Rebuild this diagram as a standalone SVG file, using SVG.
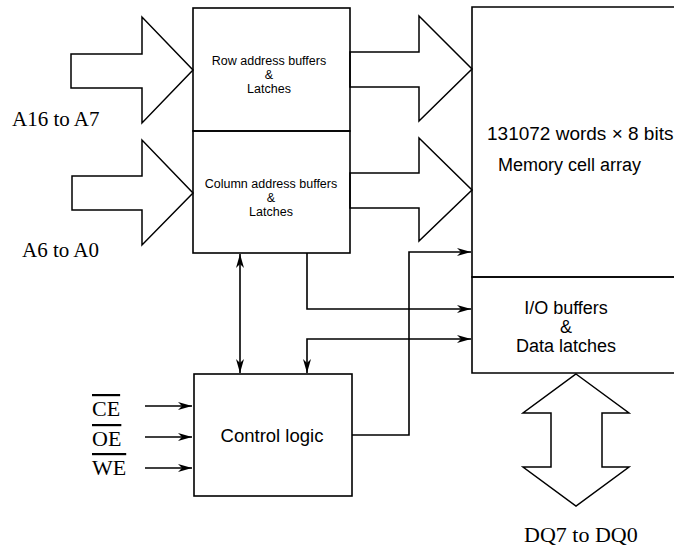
<svg xmlns="http://www.w3.org/2000/svg" width="674" height="546" viewBox="0 0 674 546">
<style>
.box{fill:none;stroke:#000;stroke-width:1.6}
.bus{fill:#fff;stroke:#000;stroke-width:1.5;stroke-linejoin:miter}
.wire{fill:none;stroke:#000;stroke-width:1.6}
.sans{font-family:"Liberation Sans",Arial,sans-serif;fill:#000}
.serif{font-family:"Liberation Serif","Times New Roman",serif;fill:#000}
</style>
<defs>
<marker id="ah" markerUnits="userSpaceOnUse" markerWidth="16" markerHeight="10" refX="14" refY="4" orient="auto-start-reverse" viewBox="0 0 16 10">
<path d="M0,0 L14,4 L0,8 L4,4 z" fill="#000"/>
</marker>
</defs>
<rect width="674" height="546" fill="#fff"/>

<g id="connectors">
<path class="wire" d="M240,254 V373" marker-start="url(#ah)" marker-end="url(#ah)"/>
<path class="wire" d="M307,253 V309 H471" marker-end="url(#ah)"/>
<path class="wire" d="M471,339 H307 V373" marker-start="url(#ah)" marker-end="url(#ah)"/>
<path class="wire" d="M352,435 H409 V252 H471" marker-end="url(#ah)"/>
<path class="wire" d="M145,406 H192" marker-end="url(#ah)"/>
<path class="wire" d="M145,437 H192" marker-end="url(#ah)"/>
<path class="wire" d="M145,468 H192" marker-end="url(#ah)"/>
</g>

<g id="bus-row-in">
<polygon class="bus" points="71,54 142,54 142,17 193,70 142,123 142,88 71,88"/>
<text class="serif" x="12" y="126" font-size="21">A16 to A7</text>
</g>
<g id="bus-col-in">
<polygon class="bus" points="72,176 142,176 142,140 193,193 142,245 142,210 72,210"/>
<text class="serif" x="22" y="257" font-size="21">A6 to A0</text>
</g>
<g id="bus-row-out">
<polygon class="bus" points="350,52 419,52 419,16 472,69 419,121 419,87 350,87"/>
</g>
<g id="bus-col-out">
<polygon class="bus" points="350,173 419,173 419,138 472,190 419,241 419,208 350,208"/>
</g>
<g id="bus-data">
<polygon class="bus" points="576,374 629,413 602,413 602,467 629,467 576,506 523,467 551,467 551,413 523,413"/>
<text class="serif" x="524" y="542" font-size="22">DQ7 to DQ0</text>
</g>

<g id="row-buffers">
<rect class="box" x="193" y="8" width="157" height="123"/>
<text class="sans" font-size="12.5" text-anchor="middle"><tspan x="269" y="65">Row address buffers</tspan><tspan x="269" y="79">&amp;</tspan><tspan x="269" y="93">Latches</tspan></text>
</g>
<g id="column-buffers">
<rect class="box" x="193" y="131" width="157" height="122"/>
<text class="sans" font-size="12.5" text-anchor="middle"><tspan x="271" y="188">Column address buffers</tspan><tspan x="271" y="202">&amp;</tspan><tspan x="271" y="216">Latches</tspan></text>
</g>
<g id="memory-array">
<path class="box" d="M680,7 H472 V277 H680"/>
<text class="sans" x="487" y="140" font-size="19">131072 words × 8 bits</text>
<text class="sans" x="498" y="171" font-size="18">Memory cell array</text>
</g>
<g id="io-buffers">
<path class="box" d="M680,277 H472 V373 H680"/>
<text class="sans" font-size="18" text-anchor="middle"><tspan x="566" y="314">I/O buffers</tspan><tspan x="566" y="333">&amp;</tspan><tspan x="566" y="352">Data latches</tspan></text>
</g>
<g id="control-logic">
<rect class="box" x="194" y="374" width="158" height="122"/>
<text class="sans" x="272" y="442" font-size="18.5" text-anchor="middle">Control logic</text>
</g>
<g id="signals">
<text class="serif" x="92" y="416" font-size="22" text-decoration="overline">CE</text>
<text class="serif" x="92" y="446" font-size="22" text-decoration="overline">OE</text>
<text class="serif" x="92" y="475" font-size="22" text-decoration="overline">WE</text>
</g>
</svg>
